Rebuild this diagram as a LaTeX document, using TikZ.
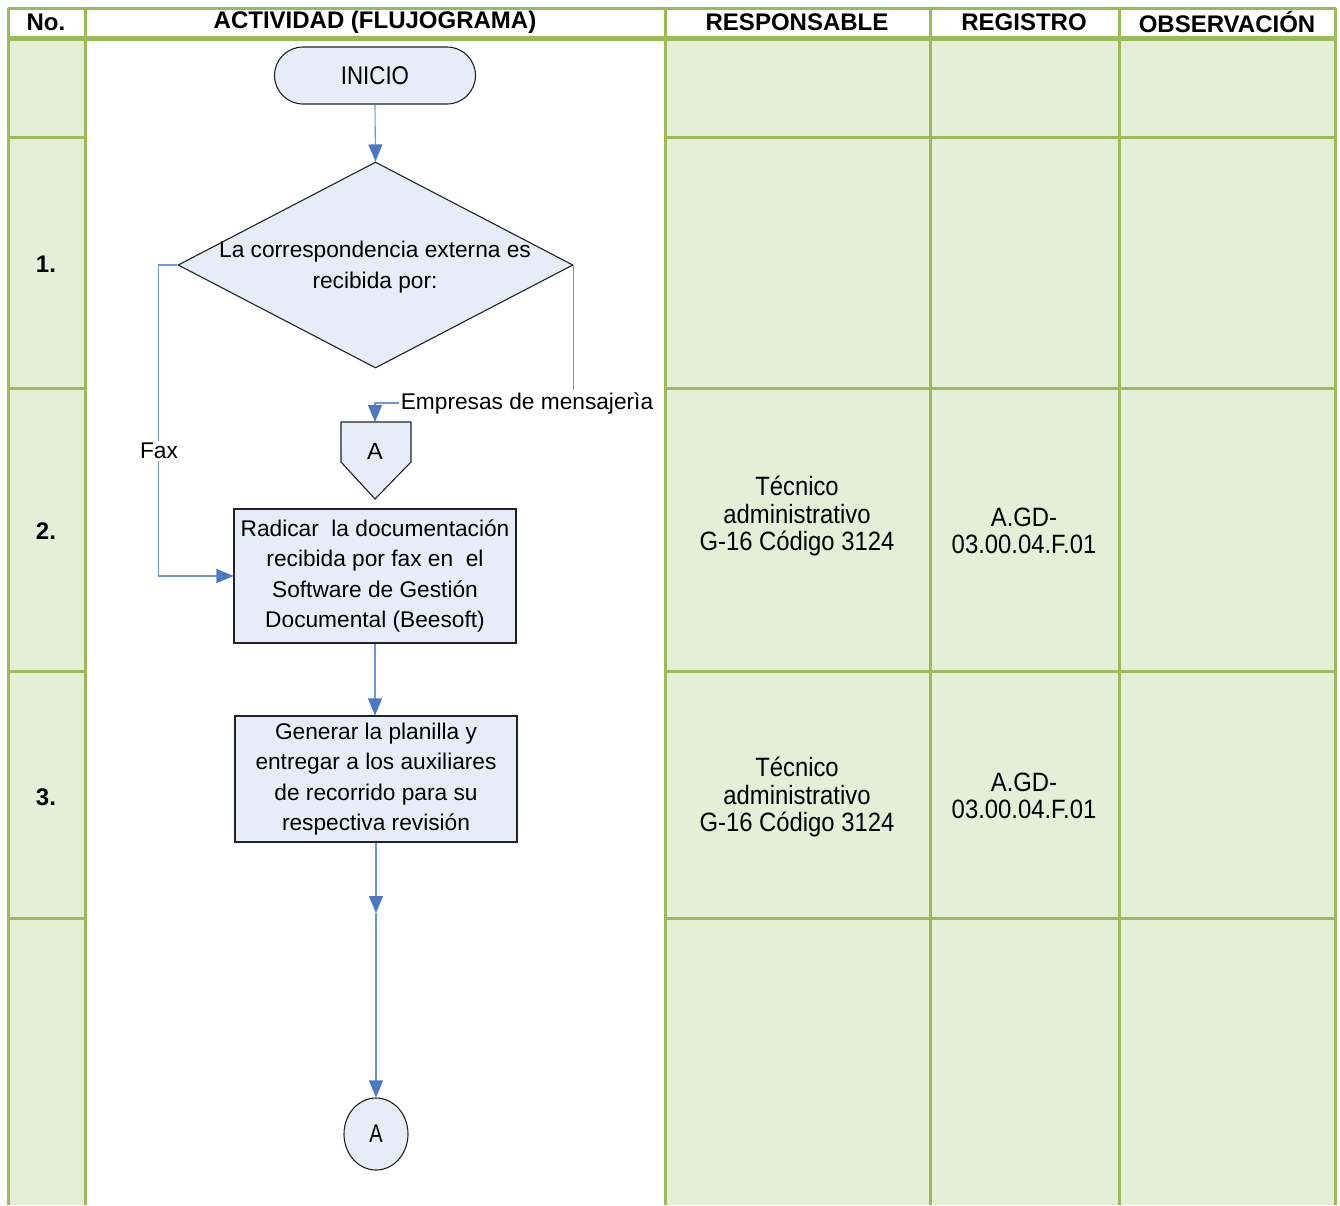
\documentclass[tikz,border=0pt]{standalone}
\usepackage{fontspec}
\setmainfont{Liberation Sans}
\newfontfamily\condfont[FakeStretch=0.9]{Liberation Sans}
\newfontfamily\narrowfont[FakeStretch=0.87]{Liberation Sans}
\newfontfamily\semifont[FakeStretch=0.78]{Liberation Sans}
\usetikzlibrary{shapes.geometric,shapes.misc,arrows.meta,calc}
\definecolor{gridgreen}{HTML}{9BBB59}
\definecolor{cellgreen}{HTML}{E5EED7}
\definecolor{shapefill}{HTML}{E6EDF8}
\definecolor{connblue}{HTML}{6E97D2}
\definecolor{tipblue}{HTML}{4A78C2}
\definecolor{shapeedge}{HTML}{222222}
\tikzset{
  grid/.style={draw=gridgreen,line width=3pt},
  shp/.style={draw=shapeedge,fill=shapefill,line width=1.1pt},
  body/.style={font=\fontsize{22.7}{30.5}\selectfont,align=center,inner sep=0pt},
  side/.style={font=\condfont\fontsize{26.5}{27.5}\selectfont,align=center,inner sep=0pt},
  head/.style={font=\bfseries\fontsize{24}{26}\selectfont,inner sep=0pt},
  num/.style={font=\bfseries\fontsize{24}{26}\selectfont,inner sep=0pt},
  conn/.style={draw=connblue,line width=1.1pt,-{Triangle[width=14pt,length=17pt,color=tipblue]}},
  lbl/.style={font=\fontsize{22.7}{26}\selectfont,fill=white,inner sep=2pt},
}
\begin{document}
\begin{tikzpicture}[x=1pt,y=-1pt]
\useasboundingbox (0,0) rectangle (1340,1205);
% cell fills
\fill[cellgreen] (8,40) rectangle (85,1205);
\fill[cellgreen] (665,40) rectangle (1336,1205);
% grid
\draw[grid] (8,8) -- (1336,8);
\draw[grid,line width=5pt] (8,38.5) -- (1336,38.5);
\foreach \y in {137,388,671,918} {
  \draw[grid] (8,\y) -- (85,\y);
  \draw[grid] (665,\y) -- (1336,\y);
}
\foreach \x in {8.5,85,665,930,1119,1335.5} {
  \draw[grid] (\x,8) -- (\x,1205);
}
% headers
\node[head] (hno) at (46,22) {No.};
\node[head] (hact) at (375,22) {ACTIVIDAD (FLUJOGRAMA)};
\node[head] (hres) at (797,22) {RESPONSABLE};
\node[head] (hreg) at (1024,22) {REGISTRO};
\node[head] (hobs) at (1227,22) {OBSERVACIÓN};
% row numbers
\node[num] (n1) at (46,264) {1.};
\node[num] (n2) at (46,531) {2.};
\node[num] (n3) at (46,797) {3.};
% responsable / registro
\node[side] (r2) at (797,516) {Técnico\\administrativo\\G-16 Código 3124};
\node[side] (g2) at (1024,531) {A.GD-\\03.00.04.F.01};
\node[side] (r3) at (797,797) {Técnico\\administrativo\\G-16 Código 3124};
\node[side] (g3) at (1024,796) {A.GD-\\03.00.04.F.01};
% flowchart shapes
\node[shp,rounded rectangle,minimum width=201pt,minimum height=57pt,inner sep=0pt,font=\narrowfont\fontsize{25.6}{28}\selectfont] (inicio) at (375,75.5) {INICIO};
\node[shp,diamond,minimum width=395pt,minimum height=206pt,inner sep=0pt,aspect=1.92] (dia) at (375.5,265) {};
\node[body] (diatext) at (375,267) {La correspondencia externa es\\recibida por:};
% off-page connector
\coordinate (offtop) at (375,422);
\draw[shp] (341,422) -- (411,422) -- (411,462) -- (375,499) -- (341,462) -- cycle;
\node[body,font=\fontsize{23.5}{26}\selectfont] (offA) at (375,451) {A};
\node[shp,rectangle,minimum width=282pt,minimum height=134pt,body] (box1) at (375,576) {Radicar\ \ la documentación\\recibida por fax en\ \ el\\Software de Gestión\\Documental (Beesoft)};
\node[shp,rectangle,minimum width=282pt,minimum height=126pt,body] (box2) at (376,779) {Generar la planilla y\\entregar a los auxiliares\\de recorrido para su\\respectiva revisión};
\node[shp,ellipse,minimum width=64pt,minimum height=72pt,inner sep=0pt,font=\semifont\fontsize{25.6}{28}\selectfont] (circ) at (376,1134) {A};
\coordinate (mid) at (376,913);
% connectors
\draw[conn] (inicio.south) -- (dia.north);
\draw[conn] (dia.west) -- ++(-19,0) |- (box1.west);
\draw[conn] (dia.east) |- ($(offtop)+(0,-19)$) -- (offtop);
\draw[conn] (box1.south) -- (box2.north -| box1.south);
\draw[conn] (box2.south) -- (mid);
\draw[conn] (mid) -- (circ.north);
% labels
\node[lbl] (lfax) at (159,451) {Fax};
\node[lbl] (lemp) at (527,403) {Empresas de mensajerìa};
\end{tikzpicture}
\end{document}
